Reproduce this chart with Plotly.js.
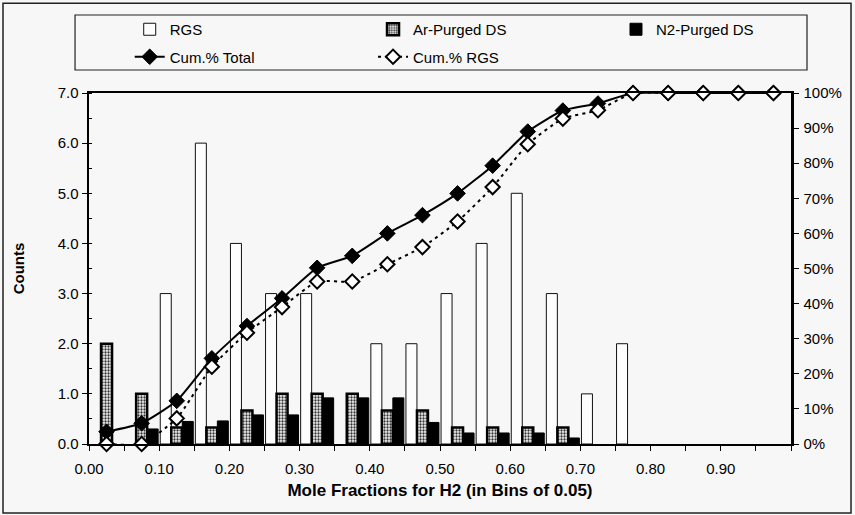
<!DOCTYPE html>
<html>
<head>
<meta charset="utf-8">
<script src="https://cdn.plot.ly/plotly-3.0.1.min.js"></script>
<style>
html,body{margin:0;padding:0;background:#f7f7f7;}
#chart{width:855px;height:515px;}
</style>
</head>
<body>
<div id="chart"></div>
<script>
// Bin centres (mole fraction H2, bins of 0.05)
const binCenters = [0.025,0.075,0.125,0.175,0.225,0.275,0.325,0.375,0.425,0.475,
                    0.525,0.575,0.625,0.675,0.725,0.775,0.825,0.875,0.925,0.975];
// Counts
const rgsCounts = [0,0,3,6,4,3,3,0,2,2,3,4,5,3,1,2,0,0,0,0];
const arCounts  = [2,1,0.33,0.33,0.67,1,1,1,0.67,0.67,0.33,0.33,0.33,0.33,0,0,0,0,0,0];
const n2Counts  = [0,0.3,0.45,0.46,0.58,0.58,0.92,0.92,0.92,0.43,0.22,0.22,0.22,0.12,0,0,0,0,0,0];
// Cumulative percentages
const cumTotal = [3.5,5.9,12.3,24.4,33.6,41.5,50.2,53.6,60.0,65.2,71.4,79.3,89.0,95.0,97.0,100,100,100,100,100];
const cumRGS   = [0,0,7.3,22.0,31.7,39.0,46.3,46.3,51.2,56.1,63.4,73.2,85.4,92.7,95.1,100,100,100,100,100];
// Tick labels
const xTickVals = [0,0.1,0.2,0.3,0.4,0.5,0.6,0.7,0.8,0.9];
const xTickText = ['0.00','0.10','0.20','0.30','0.40','0.50','0.60','0.70','0.80','0.90'];

const FONT = 'Liberation Sans, Arial, Helvetica, sans-serif';
// empty bins draw no bar at all
const nonEmpty = vals => vals.map(v => v > 0 ? v : null);

const traces = [
  {type:'bar', name:'RGS', x:binCenters, y:nonEmpty(rgsCounts), legend:'legend', legendgroup:'a',
   marker:{color:'#fdfdfd', line:{color:'#111', width:1}}},
  {type:'bar', name:'Ar-Purged DS', x:binCenters, y:nonEmpty(arCounts), legend:'legend2', legendgroup:'b',
   marker:{color:'#ffffff', line:{color:'#000', width:2.5},
           pattern:{shape:'.', bgcolor:'#f4f4f4', fgcolor:'#333', size:3, solidity:0.45}}},
  {type:'bar', name:'N2-Purged DS', x:binCenters, y:nonEmpty(n2Counts), legend:'legend3', legendgroup:'c',
   marker:{color:'#000', line:{color:'#000', width:1}}},
  {type:'scatter', mode:'lines+markers', name:'Cum.% Total', x:binCenters, y:cumTotal,
   yaxis:'y2', legend:'legend', legendgroup:'d', cliponaxis:false,
   line:{color:'#000', width:2, shape:'spline', smoothing:0.5},
   marker:{symbol:'diamond', size:12, color:'#000', line:{color:'#000', width:1}}},
  {type:'scatter', mode:'lines+markers', name:'Cum.% RGS', x:binCenters, y:cumRGS,
   yaxis:'y2', legend:'legend2', legendgroup:'e', cliponaxis:false,
   line:{color:'#000', width:2, dash:'3px,4px', shape:'spline', smoothing:0.5},
   marker:{symbol:'diamond', size:11, color:'#ffffff', line:{color:'#000', width:2}}}
];

const legendBase = {orientation:'v', xanchor:'left', y:1.2279, yanchor:'top',
  bgcolor:'rgba(0,0,0,0)', borderwidth:0, tracegroupgap:5, traceorder:'grouped',
  font:{family:FONT, size:15, color:'#000'}};

const layout = {
  width:855, height:515,
  margin:{l:89, r:64, t:93, b:71},
  paper_bgcolor:'#f7f7f7', plot_bgcolor:'#f7f7f7',
  font:{family:FONT, size:15, color:'#000'},
  barmode:'group', bargap:0.06, bargroupgap:0,
  showlegend:true,
  legend:Object.assign({}, legendBase, {x:0.058}),
  legend2:Object.assign({}, legendBase, {x:0.4046}),
  legend3:Object.assign({}, legendBase, {x:0.7507}),
  xaxis:{range:[0,1], tickvals:xTickVals, ticktext:xTickText,
         ticks:'outside', ticklen:5, tickwidth:1, tickcolor:'#000',
         minor:{dtick:0.05, tick0:0, ticks:'outside', ticklen:5, tickcolor:'#000'},
         ticklabelstandoff:5,
         showline:true, linecolor:'#000', linewidth:2, mirror:true,
         showgrid:false, zeroline:false,
         tickfont:{family:FONT, size:15},
         title:{text:'<b>Mole Fractions for H2 (in Bins of 0.05)</b>', font:{family:FONT, size:17}, standoff:8}},
  yaxis:{range:[0,7], dtick:1, tickformat:'.1f',
         ticks:'outside', ticklen:5, tickcolor:'#000',
         minor:{dtick:0.5, ticks:'inside', ticklen:3, tickcolor:'#000'},
         showline:true, linecolor:'#000', linewidth:2.5,
         showgrid:false, zeroline:false,
         tickfont:{family:FONT, size:15},
         title:{text:'<b>Counts</b>', font:{family:FONT, size:15}, standoff:30}},
  yaxis2:{range:[0,100], dtick:10, ticksuffix:'%', overlaying:'y', side:'right',
          ticks:'outside', ticklen:5, tickcolor:'#000', ticklabelstandoff:2,
          showline:true, linecolor:'#000', linewidth:2.5,
          showgrid:false, zeroline:false,
          tickfont:{family:FONT, size:15}},
  shapes:[
    {type:'rect', xref:'paper', yref:'paper', x0:-0.1225, x1:1.0855, y0:-0.1966, y1:1.256,
     line:{color:'#222', width:1.5}, fillcolor:'rgba(0,0,0,0)', layer:'below'},
    {type:'rect', xref:'paper', yref:'paper', x0:-0.0199, x1:1.0228, y0:1.0655, y1:1.2222,
     line:{color:'#222', width:1.2}, fillcolor:'rgba(0,0,0,0)', layer:'below'}
  ]
};

Plotly.newPlot('chart', traces, layout, {displayModeBar:false, staticPlot:true});
</script>
</body>
</html>
